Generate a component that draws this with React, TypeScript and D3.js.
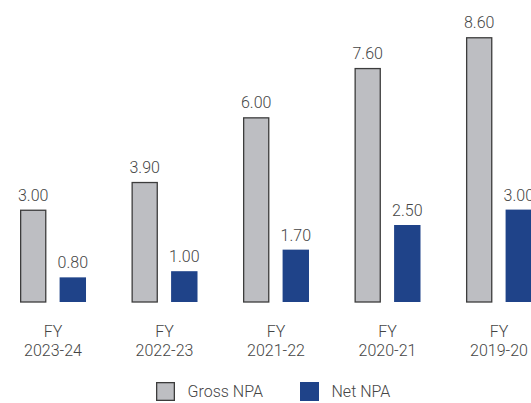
import React from "react";
import * as d3 from "d3";

const categories = ["2023-24", "2022-23", "2021-22", "2020-21", "2019-20"];
const grossNPA = [3.0, 3.9, 6.0, 7.6, 8.6];
const netNPA = [0.8, 1.0, 1.7, 2.5, 3.0];
const seriesKeys = ["gross", "net"];
const seriesNames = ["Gross NPA", "Net NPA"];

const WIDTH = 531;
const HEIGHT = 403;
const FONT = "Roboto, 'Noto Sans', sans-serif";
const TEXT = "#454545";
const WEIGHT = 300;
const SIZE = 16;
const GROSS_FILL = "#bdbec2";
const GROSS_STROKE = "#3c3c3c";
const NET_FILL = "#1f4389";

export default function App() {
  const x0 = d3.scaleBand<string>().domain(categories).range([20, 532]).paddingInner(0.408).paddingOuter(0).align(0);
  const x1 = d3.scaleBand<string>().domain(seriesKeys).range([0, x0.bandwidth()]).paddingInner(0.333).paddingOuter(0);
  const y = d3.scaleLinear().domain([0, 10]).range([302, -6]);
  const fmt = d3.format(".2f");

  const rows = categories.map((c, i) => ({ c, values: [grossNPA[i], netNPA[i]] }));

  return (
    <svg
      width={WIDTH}
      height={HEIGHT}
      style={{ position: "absolute", left: 0, top: 0, display: "block", background: "#fff" }}
      fontFamily={FONT}
      fontWeight={WEIGHT}
      fontSize={SIZE}
    >
      {rows.map((r) => {
        const gx = x0(r.c) as number;
        return (
          <g key={r.c} transform={`translate(${gx},0)`}>
            {r.values.map((v, k) => {
              const key = seriesKeys[k];
              const bx = x1(key) as number;
              const bw = x1.bandwidth();
              const top = y(v);
              const isGross = key === "gross";
              return (
                <g key={key}>
                  <rect
                    x={isGross ? bx + 0.65 : bx}
                    y={isGross ? top + 0.65 : top}
                    width={isGross ? bw - 1.3 : bw}
                    height={isGross ? y(0) - top - 0.65 : y(0) - top}
                    fill={isGross ? GROSS_FILL : NET_FILL}
                    stroke={isGross ? GROSS_STROKE : "none"}
                    strokeWidth={1.3}
                  />
                  <text x={bx + bw / 2} y={top - 9} textAnchor="middle" fill={TEXT}>
                    {fmt(v)}
                  </text>
                </g>
              );
            })}
            <text x={x0.bandwidth() / 2} y={336.7} textAnchor="middle" fill={TEXT}>
              FY
            </text>
            <text x={x0.bandwidth() / 2} y={355.7} textAnchor="middle" fill={TEXT}>
              {r.c}
            </text>
          </g>
        );
      })}

      {seriesNames.map((name, k) => {
        const lx = [156, 300][k];
        const isGross = k === 0;
        return (
          <g key={name} transform={`translate(${lx},382)`}>
            <rect
              x={isGross ? 0.65 : 0}
              y={isGross ? 0.65 : 0}
              width={isGross ? 17.7 : 19}
              height={isGross ? 17.7 : 19}
              fill={isGross ? GROSS_FILL : NET_FILL}
              stroke={isGross ? GROSS_STROKE : "none"}
              strokeWidth={1.3}
            />
            <text x={31.5} y={14.7} fill={TEXT}>
              {name}
            </text>
          </g>
        );
      })}
    </svg>
  );
}
